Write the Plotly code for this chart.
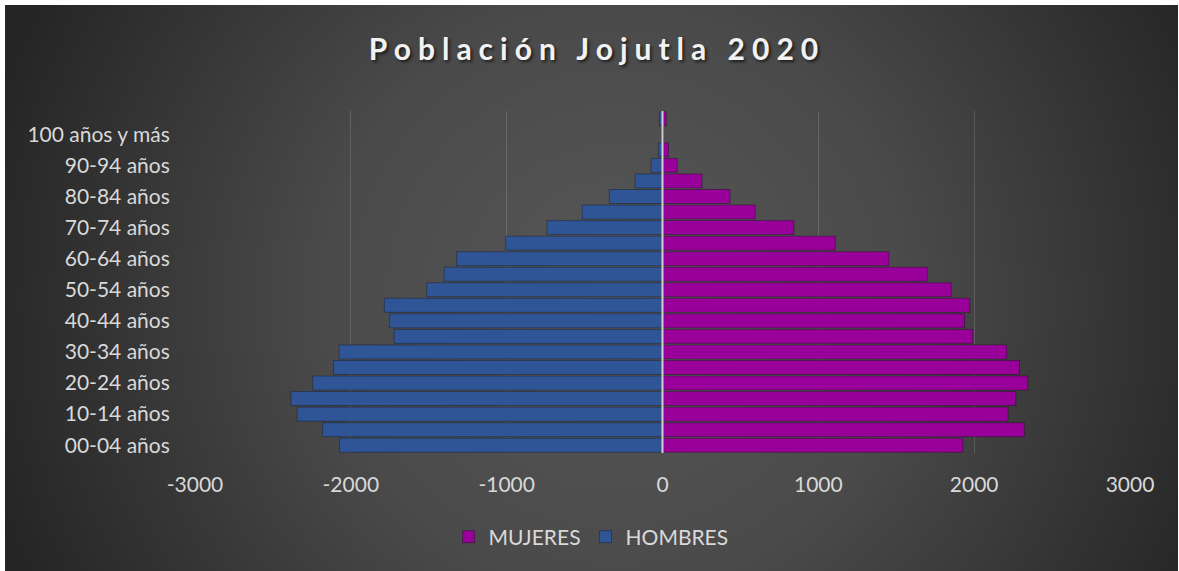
import base64
import plotly.graph_objects as go

# ---- data (bottom to top) ----
edades = ["00-04 años", "05-09 años", "10-14 años", "15-19 años", "20-24 años",
          "25-29 años", "30-34 años", "35-39 años", "40-44 años", "45-49 años",
          "50-54 años", "55-59 años", "60-64 años", "65-69 años", "70-74 años",
          "75-79 años", "80-84 años", "85-89 años", "90-94 años", "95-99 años",
          "100 años y más", "No especificado"]
mujeres = [1927, 2322, 2218, 2268, 2344, 2291, 2209, 1991, 1938, 1972, 1853,
           1699, 1453, 1109, 844, 595, 434, 254, 95, 38, 6, 24]
hombres = [-2072, -2181, -2344, -2384, -2244, -2112, -2077, -1722, -1751, -1785,
           -1513, -1401, -1321, -1006, -742, -516, -341, -177, -74, -26, -3, -20]
x_ticks = [-3000, -2000, -1000, 0, 1000, 2000, 3000]
x_tick_text = ["-3000", "-2000", "-1000", "0", "1000", "2000", "3000"]
y_labels = edades[0:21:2]

W, H = 1179, 571
L, R, T, B = 195, 1130, 111, 453  # plot area in px

FONT = "Lato, 'Open Sans', sans-serif"
TXT = "#D9D9D9"

fig = go.Figure()
fig.add_bar(y=edades, x=mujeres, name="MUJERES", orientation="h",
            marker=dict(color="#990099", line=dict(color="rgba(0,0,0,0.3)", width=1)))
fig.add_bar(y=edades, x=hombres, name="HOMBRES", orientation="h",
            marker=dict(color="#2F5597", line=dict(color="rgba(0,0,0,0.3)", width=1)))

# radial gradient background as an SVG image
gw, gh = 1173, 566
svg = (f'<svg xmlns="http://www.w3.org/2000/svg" width="{gw}" height="{gh}">'
       f'<defs><radialGradient id="g" cx="{gw*0.52:.0f}" cy="{gh*0.52:.0f}" r="650" '
       f'gradientUnits="userSpaceOnUse">'
       f'<stop offset="0" stop-color="#575757"/>'
       f'<stop offset="0.45" stop-color="#4a4a4a"/>'
       f'<stop offset="1" stop-color="#252525"/>'
       f'</radialGradient></defs>'
       f'<rect width="{gw}" height="{gh}" fill="url(#g)"/></svg>')
src = "data:image/svg+xml;base64," + base64.b64encode(svg.encode()).decode()
pw, ph = R - L, B - T
fig.add_layout_image(dict(source=src, xref="paper", yref="paper",
                          x=(5 - L) / pw, y=(B - 5) / ph,
                          sizex=gw / pw, sizey=gh / ph,
                          xanchor="left", yanchor="top", sizing="stretch",
                          layer="below"))

# zero line above bars
fig.add_shape(type="line", xref="x", yref="paper", x0=0, x1=0, y0=0, y1=1,
              line=dict(color="rgba(235,235,235,0.85)", width=2), layer="above")

fig.update_layout(
    width=W, height=H,
    margin=dict(l=L, r=W - R, t=T, b=H - B, pad=0),
    paper_bgcolor="white",
    plot_bgcolor="rgba(0,0,0,0)",
    barmode="overlay",
    bargap=0.1,
    title=dict(text="Población Jojutla 2020", xref="container", yref="container",
               x=597 / W, xanchor="center", y=1 - 49 / H, yanchor="middle",
               font=dict(family=FONT, size=30, color="#F2F2F2", weight="bold",
                         shadow="2px 2px 3px rgba(0,0,0,0.6)")),
    xaxis=dict(range=[-3000, 3000], tickvals=x_ticks, ticktext=x_tick_text,
               showgrid=True, gridcolor="rgba(255,255,255,0.14)", gridwidth=1,
               zeroline=False, showline=False, ticks="outside", ticklen=13,
               tickcolor="rgba(0,0,0,0)", tickfont=dict(family=FONT, size=21, color=TXT)),
    yaxis=dict(type="category", categoryorder="array", categoryarray=edades,
               tickmode="array", tickvals=y_labels, showgrid=False, zeroline=False,
               showline=False, ticks="outside", ticklen=20, tickcolor="rgba(0,0,0,0)",
               tickfont=dict(family=FONT, size=21, color=TXT),
               range=[-0.5, len(edades) - 0.5]),
    legend=dict(orientation="h", xref="container", yref="container",
                x=591 / W, xanchor="center", y=1 - 537 / H, yanchor="middle",
                font=dict(family=FONT, size=21, color=TXT),
                bgcolor="rgba(0,0,0,0)", traceorder="normal", itemwidth=30),
    showlegend=True,
)

post = """
document.body.style.margin='0';
function fixTitle(){var t=document.querySelector('.gtitle');if(t){t.style.letterSpacing='7px';}}
fixTitle();
var gd=document.getElementById('{plot_id}');
if(gd && gd.on){gd.on('plotly_afterplot', fixTitle);}
setTimeout(fixTitle, 50);
"""
fig.write_html("out.html", post_script=post, config={"displayModeBar": False})
